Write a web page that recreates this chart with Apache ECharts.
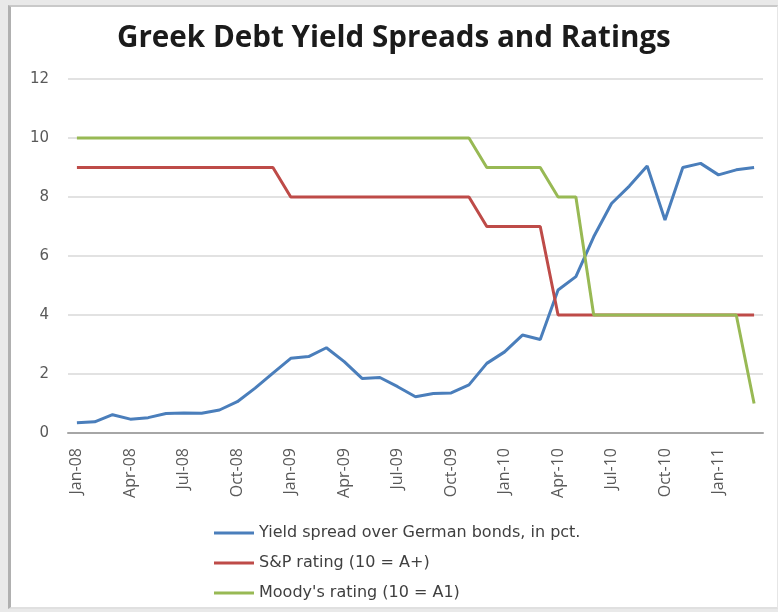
<!DOCTYPE html>
<html>
<head>
<meta charset="utf-8">
<script src="https://cdn.jsdelivr.net/npm/echarts@6/dist/echarts.min.js"></script>
<style>
	html, body { margin: 0; padding: 0; background: #e9e9e9; }
	#frame {
		position: absolute; left: 8px; top: 5px; width: 766px; height: 600px;
		background: #fff; border-top: 2px solid #c9c9c9; border-left: 3px solid #b0b0b0;
		border-bottom: 2px solid #e0e0e0; border-right: 1px solid #e6e6e6;
	}
	#main { position: absolute; left: 0; top: 0; width: 778px; height: 612px; }
</style>
</head>
<body>
<div id="frame"></div>
<div id="main"></div>
<script>
const months = [
	"Jan-08", "Feb-08", "Mar-08", "Apr-08", "May-08", "Jun-08", "Jul-08", "Aug-08", "Sep-08", "Oct-08", "Nov-08", "Dec-08",
	"Jan-09", "Feb-09", "Mar-09", "Apr-09", "May-09", "Jun-09", "Jul-09", "Aug-09", "Sep-09", "Oct-09", "Nov-09", "Dec-09",
	"Jan-10", "Feb-10", "Mar-10", "Apr-10", "May-10", "Jun-10", "Jul-10", "Aug-10", "Sep-10", "Oct-10", "Nov-10", "Dec-10",
	"Jan-11", "Feb-11", "Mar-11",
];

// yield spread over German bonds, pct
const spread = [
	0.35, 0.38, 0.62, 0.47, 0.52, 0.66, 0.68, 0.67, 0.78, 1.06, 1.52, 2.03,
	2.53, 2.59, 2.89, 2.42, 1.85, 1.88, 1.57, 1.23, 1.34, 1.36, 1.63, 2.36,
	2.75, 3.32, 3.17, 4.85, 5.3, 6.65, 7.78, 8.37, 9.05, 7.22, 9.0, 9.14,
	8.75, 8.92, 9.0,
];

const spRating = [
	9, 9, 9, 9, 9, 9, 9, 9, 9, 9, 9, 9,
	8, 8, 8, 8, 8, 8, 8, 8, 8, 8, 8, 7,
	7, 7, 7, 4, 4, 4, 4, 4, 4, 4, 4, 4,
	4, 4, 4,
];

const moodysRating = [
	10, 10, 10, 10, 10, 10, 10, 10, 10, 10, 10, 10,
	10, 10, 10, 10, 10, 10, 10, 10, 10, 10, 10, 9,
	9, 9, 9, 8, 8, 4, 4, 4, 4, 4, 4, 4,
	4, 4, 1,
];

const yTicks = [0, 2, 4, 6, 8, 10, 12];

const chart = echarts.init(document.getElementById("main"));

const lineSeries = (name, data, color) => ({
	name: name,
	type: "line",
	data: data,
	symbol: "none",
	lineStyle: { color: color, width: 3 },
	itemStyle: { color: color },
	animation: false,
});

chart.setOption({
	backgroundColor: "transparent",
	textStyle: { fontFamily: "Open Sans" },
	title: {
		text: "Greek Debt Yield Spreads and Ratings",
		left: 112,
		top: 19,
		textStyle: { fontFamily: "Open Sans", fontWeight: "bold", fontSize: 29.6, color: "#1b1b1b" },
	},
	grid: { left: 68, right: 15, top: 79, bottom: 179 },
	legend: {
		orient: "vertical",
		left: 209,
		top: 520,
		icon: "rect",
		itemWidth: 40,
		itemHeight: 3,
		itemGap: 14,
		textStyle: { fontFamily: "DejaVu Sans", fontSize: 16, color: "#404040" },
		data: [
			"Yield spread over German bonds, in pct.",
			"S&P rating (10 = A+)",
			"Moody's rating (10 = A1)",
		],
	},
	xAxis: {
		type: "category",
		data: months,
		boundaryGap: true,
		axisLine: { lineStyle: { color: "#a6a6a6", width: 2 } },
		axisTick: { show: false },
		axisLabel: {
			interval: 2,
			rotate: 90,
			margin: 15,
			fontFamily: "Open Sans",
			fontSize: 16,
			color: "#595959",
		},
	},
	yAxis: {
		type: "value",
		min: yTicks[0],
		max: yTicks[yTicks.length - 1],
		interval: 2,
		axisLine: { show: false },
		axisTick: { show: false },
		axisLabel: { margin: 19, fontFamily: "DejaVu Sans", fontSize: 15, color: "#595959" },
		splitLine: { lineStyle: { color: "#d9d9d9", width: 1.5 } },
	},
	series: [
		lineSeries("Yield spread over German bonds, in pct.", spread, "#4a7ebb"),
		lineSeries("S&P rating (10 = A+)", spRating, "#be4b48"),
		lineSeries("Moody's rating (10 = A1)", moodysRating, "#98b954"),
	],
});
</script>
</body>
</html>
